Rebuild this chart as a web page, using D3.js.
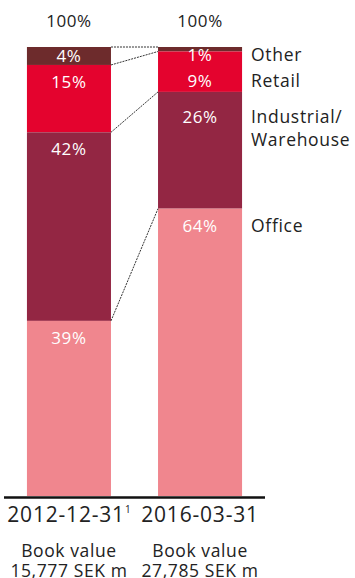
<!DOCTYPE html>
<html>
<head>
<meta charset="utf-8">
<script src="https://cdn.jsdelivr.net/npm/d3@7"></script>
<style>
  html, body { margin: 0; padding: 0; background: #fff; }
  svg { display: block; font-family: "Open Sans", "DejaVu Sans", sans-serif; }
</style>
</head>
<body>
<svg id="chart" width="355" height="578"></svg>
<script>
// Property portfolio split by segment, share of book value (%)
const dates = ["2012-12-31", "2016-03-31"];
const dateNotes = ["1", ""];
const bookValues = ["15,777 SEK m", "27,785 SEK m"];
const segments = ["Other", "Retail", "Industrial/Warehouse", "Office"];
const segmentLegend = [["Other"], ["Retail"], ["Industrial/", "Warehouse"], ["Office"]];
const share2012 = [4, 15, 42, 39];
const share2016 = [1, 9, 26, 64];
const totals = ["100%", "100%"];
const colors = ["#6d2b2c", "#e4032e", "#932643", "#f0868e"];

const svg = d3.select("#chart");
const plotTop = 47, plotBottom = 496;
const ink = "#222";

const x = d3.scaleBand().domain(dates).range([4, 265]).paddingInner(0.359).paddingOuter(0.175);
const y = d3.scaleLinear().domain([0, 100]).range([plotBottom, plotTop]);
const cx = d => x(d) + x.bandwidth() / 2;

// stack each column from the top down: Other first, Office last at the base
const columns = [share2012, share2016].map((vals, ci) => {
  let acc = 100;
  return vals.map((v, si) => {
    const seg = { date: dates[ci], seg: segments[si], si, v, hi: acc, lo: acc - v };
    acc -= v;
    return seg;
  });
});

const g = svg.append("g");

columns.forEach(col => {
  g.selectAll(null).data(col).enter().append("rect")
    .attr("x", d => x(d.date))
    .attr("width", x.bandwidth())
    .attr("y", d => y(d.hi))
    .attr("height", d => y(d.lo) - y(d.hi))
    .attr("fill", d => colors[d.si]);
});

// dotted connectors between the segment boundaries of the two columns
const bounds = [100].concat(columns[0].map(d => d.lo)).slice(0, 4);
const bounds2 = [100].concat(columns[1].map(d => d.lo)).slice(0, 4);
g.selectAll(null).data(d3.range(4)).enter().append("line")
  .attr("x1", x(dates[0]) + x.bandwidth())
  .attr("x2", x(dates[1]))
  .attr("y1", i => y(bounds[i]))
  .attr("y2", i => y(bounds2[i]))
  .attr("stroke", "#333")
  .attr("stroke-width", 1)
  .attr("stroke-dasharray", "2,1");

// label rows: legend rows drive the right-hand column labels
const legendRows = [];
let prev = null;
columns[1].forEach((d, i) => {
  const lines = segmentLegend[i].length;
  const t = y(d.hi);
  const yy = prev === null ? t + 8 : Math.max(t + 17 + (lines - 1) * 8, prev + 26);
  legendRows.push(yy);
  prev = yy + (lines - 1) * 23;
});

const leftRows = [];
prev = null;
columns[0].forEach(d => {
  const t = y(d.hi);
  const yy = prev === null ? t + 9 : Math.max(t + 17, prev + 26);
  leftRows.push(yy);
  prev = yy;
});

const rows = [leftRows, legendRows];
columns.forEach((col, ci) => {
  g.selectAll(null).data(col).enter().append("text")
    .attr("x", d => cx(d.date))
    .attr("y", (d, i) => rows[ci][i])
    .attr("dy", "0.36em")
    .attr("text-anchor", "middle")
    .attr("fill", "#fff")
    .attr("font-size", 17)
    .attr("letter-spacing", 0.6)
    .text(d => d.v + "%");
});

// legend at the right of the 2016 column
const legend = g.selectAll(null).data(segmentLegend).enter().append("text")
  .attr("x", 251)
  .attr("y", (d, i) => legendRows[i])
  .attr("fill", ink)
  .attr("font-size", 17.5)
  .attr("letter-spacing", 0.7);
legend.selectAll("tspan").data(d => d).enter().append("tspan")
  .attr("x", 251)
  .attr("dy", (d, i) => i === 0 ? "0.36em" : "1.3em")
  .text(d => d);

// totals above the columns
g.selectAll(null).data(dates).enter().append("text")
  .attr("x", cx)
  .attr("y", 27)
  .attr("text-anchor", "middle")
  .attr("fill", ink)
  .attr("font-size", 17)
  .attr("letter-spacing", 0.6)
  .text((d, i) => totals[i]);

// baseline
g.append("line")
  .attr("x1", x.range()[0]).attr("x2", x.range()[1])
  .attr("y1", plotBottom + 1.5).attr("y2", plotBottom + 1.5)
  .attr("stroke", "#111").attr("stroke-width", 2.5);

// date labels with footnote marker
const dl = g.selectAll(null).data(dates).enter().append("text")
  .attr("x", cx)
  .attr("y", 522)
  .attr("text-anchor", "middle")
  .attr("fill", ink)
  .attr("font-size", 21)
  .attr("letter-spacing", 0.8);
dl.append("tspan").text(d => d);
dl.append("tspan")
  .attr("font-size", 10)
  .attr("letter-spacing", 0)
  .attr("dy", "-0.9em")
  .text((d, i) => dateNotes[i]);

// book value below each date
const bv = g.selectAll(null).data(dates).enter().append("text")
  .attr("x", cx)
  .attr("y", 557)
  .attr("text-anchor", "middle")
  .attr("fill", ink)
  .attr("font-size", 17.5)
  .attr("letter-spacing", 0.6);
bv.append("tspan").attr("x", cx).text("Book value");
bv.append("tspan").attr("x", cx).attr("dy", 20).text((d, i) => bookValues[i]);
</script>
</body>
</html>
